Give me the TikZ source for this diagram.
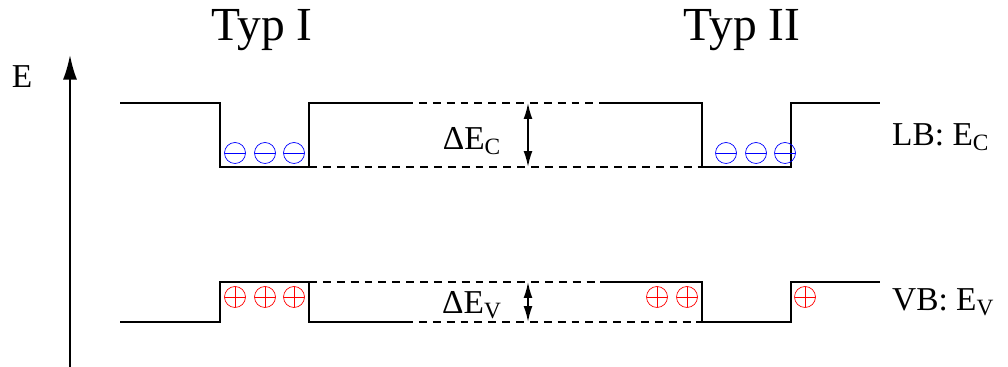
\documentclass[tikz,border=0pt]{standalone}
\usepackage{fontspec}
\setmainfont{Liberation Serif}
\usetikzlibrary{arrows.meta}

\tikzset{
  band/.style={line width=1.1pt},
  offset/.style={line width=0.9pt, dash pattern=on 4.5pt off 3.4pt},
  elektron/.style={circle, draw=blue, thin, minimum size=0.42cm, inner sep=0pt,
    path picture={\draw[blue, thin] (path picture bounding box.west) -- (path picture bounding box.east);}},
  loch/.style={circle, draw=red, thin, minimum size=0.42cm, inner sep=0pt,
    path picture={\draw[red, thin] (path picture bounding box.west) -- (path picture bounding box.east)
                                   (path picture bounding box.north) -- (path picture bounding box.south);}},
  gross/.style={font=\fontsize{27}{30}\selectfont},
  beschr/.style={font=\fontsize{19}{22}\selectfont}
}

\begin{document}
\begin{tikzpicture}[x=0.02cm, y=-0.02cm]
  \useasboundingbox (0,0) rectangle (1008,367);

  % Energieachse
  \coordinate (achseunten) at (70,367);
  \coordinate (achseoben) at (70,55);
  \draw[line width=1.1pt, -{Latex[length=14pt, width=8pt]}] (achseunten) -- (achseoben);
  \node[beschr] (e) at (22,77) {E};

  % Ueberschriften
  \node[gross] (typ1) at (262,30) {Typ I};
  \node[gross] (typ2) at (742,30) {Typ II};

  % Leitungsband
  \draw[band] (120,103) -- (220,103) -- (220,167) -- (309,167) -- (309,103) -- (405,103);
  \draw[band] (600,103) -- (702,103) -- (702,167) -- (791,167) -- (791,103) -- (880,103);
  \draw[offset] (405,103) -- (600,103);
  \draw[offset] (309,167) -- (702,167);

  % Valenzband
  \draw[band] (120,322) -- (220,322) -- (220,282) -- (309,282) -- (309,322) -- (405,322);
  \draw[band] (600,282) -- (702,282) -- (702,322) -- (791,322) -- (791,282) -- (880,282);
  \draw[offset] (309,282) -- (600,282);
  \draw[offset] (405,322) -- (702,322);

  % Bandoffsets
  \coordinate (lboben) at (528,103);
  \coordinate (lbunten) at (528,167);
  \coordinate (vboben) at (528,282);
  \coordinate (vbunten) at (528,322);
  \draw[line width=1pt, {Latex[length=9pt, width=5pt]}-{Latex[length=9pt, width=5pt]}] (lboben) -- (lbunten);
  \draw[line width=1pt, {Latex[length=9pt, width=5pt]}-{Latex[length=9pt, width=5pt]}] (vboben) -- (vbunten);
  \node[beschr] (dec) at (472,141) {ΔE\textsubscript{C}};
  \node[beschr] (dev) at (472,305) {ΔE\textsubscript{V}};

  \node[beschr, anchor=west] (lb) at (886,137) {LB: E\textsubscript{C}};
  \node[beschr, anchor=west] (vb) at (886,302) {VB: E\textsubscript{V}};

  % Elektronen
  \foreach \x [count=\i] in {235,265,294,726,756,785}
    \node[elektron] (el\i) at (\x,153) {};

  % Loecher
  \foreach \x [count=\i] in {235,265,294,657,687,805}
    \node[loch] (h\i) at (\x,297) {};
\end{tikzpicture}
\end{document}
